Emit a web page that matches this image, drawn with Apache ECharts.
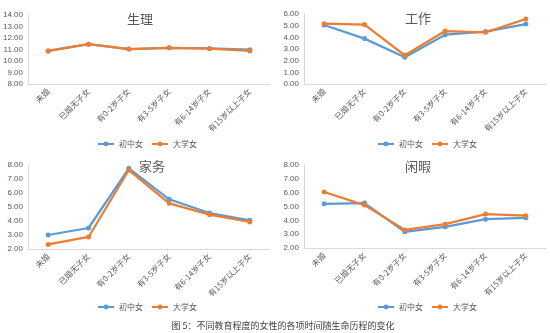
<!DOCTYPE html>
<html>
<head>
<meta charset="utf-8">
<script src="https://cdn.jsdelivr.net/npm/echarts@6/dist/echarts.min.js"></script>
<style>
html,body{margin:0;padding:0;background:#fff;}
#chart{width:550px;height:333px;}
</style>
</head>
<body>
<div id="chart"></div>
<script>
// Life-stage categories shared by all four panels
const stages = ['未婚', '已婚无子女', '有0-2岁子女', '有3-5岁子女', '有6-14岁子女', '有15岁以上子女'];
const seriesNames = ['初中女', '大学女'];

// Hours per day by activity
const physJunior = [10.88, 11.46, 11.04, 11.15, 11.09, 10.98];
const physCollege = [10.88, 11.46, 11.04, 11.15, 11.07, 10.87];
const workJunior = [5.06, 3.89, 2.29, 4.23, 4.49, 5.14];
const workCollege = [5.17, 5.09, 2.46, 4.54, 4.43, 5.57];
const houseJunior = [3.00, 3.50, 7.76, 5.55, 4.57, 4.05];
const houseCollege = [2.33, 2.86, 7.64, 5.26, 4.45, 3.93];
const leisureJunior = [5.19, 5.25, 3.17, 3.53, 4.08, 4.18];
const leisureCollege = [6.05, 5.10, 3.31, 3.72, 4.45, 4.34];

const panelTitles = ['生理', '工作', '家务', '闲暇'];
const yRanges = [[8, 14], [0, 6], [2, 8], [2, 8]];
const panelData = [
  [physJunior, physCollege],
  [workJunior, workCollege],
  [houseJunior, houseCollege],
  [leisureJunior, leisureCollege]
];
const caption = '图 5：不同教育程度的女性的各项时间随生命历程的变化';

const colors = ['#5B9BD5', '#ED7D31'];
const font = '"Noto Sans CJK SC", "Microsoft YaHei", sans-serif';

// Panel layout: [left, top, height] of each plot area
const pos = [[28, 15, 69], [304, 14, 70], [28, 165, 84], [304, 165, 83]];
const plotW = 242;
// Title centres and legend anchors per panel (component padding is 5px)
const titlePos = [[140, 20], [418, 19], [152, 167], [418, 167]];
const legendPos = [[92, 135], [372, 135], [92, 298], [372, 298]];

const grids = [], xAxes = [], yAxes = [], series = [], titles = [], legends = [];
pos.forEach((p, i) => {
  grids.push({ left: p[0], top: p[1], width: plotW, height: p[2] });
  xAxes.push({
    type: 'category', gridIndex: i, data: stages, boundaryGap: true,
    axisLine: { lineStyle: { color: '#d9d9d9' } },
    axisTick: { show: false },
    axisLabel: { rotate: 45, fontSize: 8, color: '#595959', fontFamily: font, margin: 6, interval: 0 }
  });
  yAxes.push({
    type: 'value', gridIndex: i, min: yRanges[i][0], max: yRanges[i][1], interval: 1,
    axisLine: { show: true, lineStyle: { color: '#d9d9d9' } },
    axisTick: { show: false },
    splitLine: { show: false },
    axisLabel: { fontSize: 8, color: '#595959', fontFamily: 'Liberation Sans, Arial, sans-serif', margin: 5,
      formatter: v => v.toFixed(2) }
  });
  panelData[i].forEach((d, k) => {
    series.push({
      name: seriesNames[k], type: 'line', xAxisIndex: i, yAxisIndex: i, data: d,
      symbol: 'circle', symbolSize: 5,
      lineStyle: { width: 2.25, color: colors[k] },
      itemStyle: { color: colors[k] },
      animation: false
    });
  });
  titles.push({
    text: panelTitles[i],
    left: titlePos[i][0] - 5, top: titlePos[i][1] - 12, textAlign: 'center',
    textStyle: { fontSize: 13, fontWeight: 'normal', color: '#595959', fontFamily: font }
  });
  legends.push({
    data: seriesNames,
    left: legendPos[i][0], top: legendPos[i][1],
    itemWidth: 16, itemHeight: 6, itemGap: 8,
    textStyle: { fontSize: 8, color: '#595959', fontFamily: font }
  });
});

titles.push({
  text: caption, left: 278, top: 316, textAlign: 'center',
  textStyle: { fontSize: 9, fontWeight: 'normal', color: '#404040', fontFamily: font }
});

const chart = echarts.init(document.getElementById('chart'), null, { renderer: 'canvas' });
chart.setOption({
  animation: false,
  color: colors,
  title: titles,
  legend: legends,
  grid: grids,
  xAxis: xAxes,
  yAxis: yAxes,
  series: series
});
</script>
</body>
</html>
